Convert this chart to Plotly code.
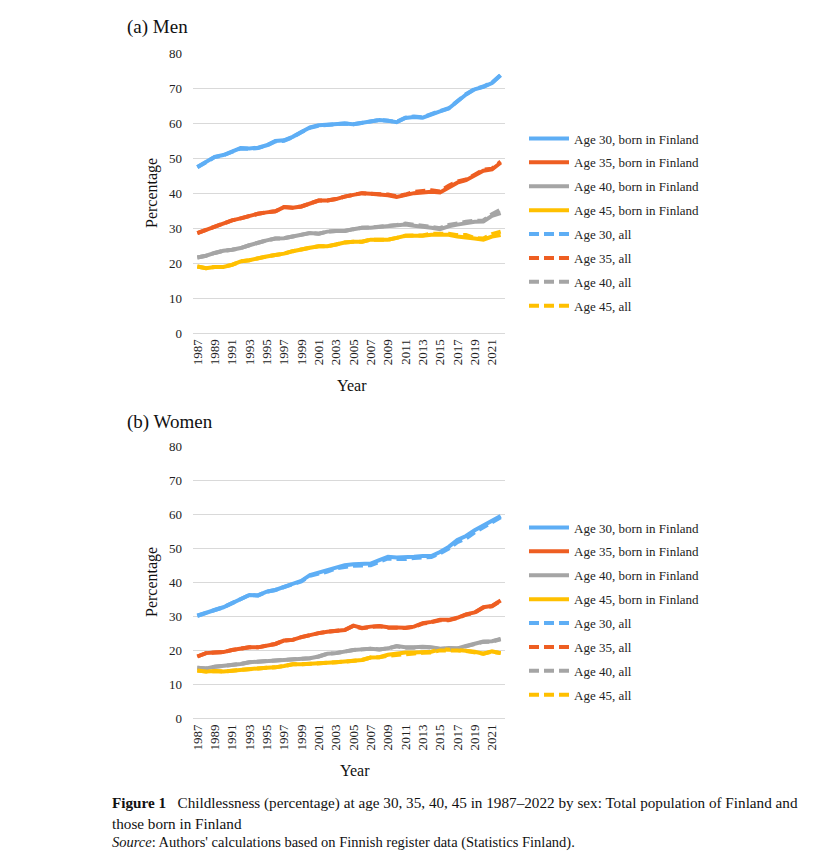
import plotly.graph_objects as go

# Childlessness (%) by age, 1987-2022
years = list(range(1987, 2023))

# (a) Men
men_30_fin = [47.5, 48.9, 50.4, 50.9, 51.8, 52.9, 52.8, 53.0, 53.7, 54.9, 55.1, 56.1,
              57.5, 58.8, 59.4, 59.6, 59.9, 59.9, 59.7, 60.1, 60.6, 60.9, 60.7, 60.3,
              61.5, 61.8, 61.6, 62.6, 63.4, 64.2, 66.1, 68.2, 69.7, 70.4, 71.5, 73.7]
men_35_fin = [28.6, 29.5, 30.7, 31.4, 32.2, 32.8, 33.5, 34.1, 34.5, 34.8, 36.0, 35.8,
              36.2, 37.0, 37.9, 37.9, 38.3, 39.0, 39.6, 40.0, 39.8, 39.6, 39.4, 38.9,
              39.4, 40.0, 40.2, 40.4, 40.2, 41.7, 43.0, 43.7, 45.1, 46.4, 46.8, 48.7]
men_40_fin = [21.6, 22.1, 22.9, 23.5, 23.8, 24.3, 25.1, 25.9, 26.5, 27.0, 27.1, 27.6,
              28.2, 28.6, 28.4, 29.0, 29.2, 29.2, 29.7, 30.1, 30.1, 30.3, 30.5, 30.7,
              31.0, 30.7, 30.5, 30.1, 29.7, 30.5, 31.0, 31.4, 31.8, 31.9, 33.5, 34.3]
men_45_fin = [19.0, 18.5, 18.9, 18.9, 19.5, 20.5, 20.8, 21.4, 21.9, 22.3, 22.7, 23.4,
              24.0, 24.4, 24.8, 24.8, 25.3, 25.9, 26.1, 26.1, 26.7, 26.7, 26.7, 27.2,
              27.8, 27.8, 27.8, 28.1, 28.1, 28.1, 27.6, 27.4, 27.0, 26.7, 27.6, 28.0]
men_30_all = [47.4, 48.8, 50.3, 50.8, 51.7, 52.8, 52.7, 52.9, 53.6, 54.8, 55.0, 56.0,
              57.4, 58.7, 59.3, 59.5, 59.8, 59.9, 59.7, 60.1, 60.6, 60.9, 60.7, 60.4,
              61.6, 61.9, 61.7, 62.7, 63.5, 64.3, 66.2, 68.3, 69.8, 70.5, 71.6, 73.8]
men_35_all = [28.6, 29.5, 30.7, 31.4, 32.2, 32.8, 33.5, 34.1, 34.5, 34.8, 36.0, 35.8,
              36.2, 37.0, 37.9, 37.9, 38.3, 39.0, 39.6, 40.0, 39.8, 39.7, 39.6, 39.1,
              39.6, 40.4, 40.6, 40.8, 40.5, 42.1, 43.3, 43.9, 45.3, 46.7, 47.0, 49.0]
men_40_all = [21.6, 22.1, 22.9, 23.5, 23.8, 24.3, 25.1, 25.9, 26.5, 27.0, 27.1, 27.6,
              28.2, 28.6, 28.4, 29.0, 29.2, 29.2, 29.7, 30.1, 30.2, 30.4, 30.7, 30.9,
              31.3, 31.0, 30.8, 30.4, 30.0, 30.9, 31.4, 31.8, 32.1, 32.2, 34.0, 35.3]
men_45_all = [19.0, 18.5, 18.9, 18.9, 19.5, 20.5, 20.8, 21.4, 21.9, 22.3, 22.7, 23.4,
              24.0, 24.4, 24.8, 24.8, 25.3, 25.9, 26.1, 26.1, 26.7, 26.7, 26.7, 27.2,
              27.8, 27.9, 27.9, 28.4, 28.4, 28.4, 28.0, 28.0, 27.2, 27.0, 28.3, 29.0]

# (b) Women
women_30_fin = [30.2, 31.2, 31.9, 32.7, 33.9, 35.1, 36.3, 36.2, 37.3, 37.8, 38.8, 39.5,
                40.5, 42.2, 42.9, 43.6, 44.6, 45.1, 45.4, 45.4, 45.6, 46.6, 47.6, 47.4,
                47.4, 47.6, 47.8, 47.8, 49.0, 50.5, 52.5, 53.7, 55.4, 56.9, 58.4, 59.6]
women_35_fin = [18.2, 19.2, 19.4, 19.5, 20.1, 20.4, 20.9, 20.9, 21.3, 21.9, 22.9, 23.1,
                23.9, 24.6, 25.1, 25.5, 25.8, 26.0, 27.3, 26.6, 27.0, 27.2, 26.8, 26.8,
                26.7, 27.0, 28.0, 28.4, 29.0, 29.0, 29.6, 30.6, 31.2, 32.7, 33.1, 34.7]
women_40_fin = [14.9, 14.7, 15.2, 15.4, 15.7, 16.0, 16.5, 16.7, 16.7, 17.0, 17.2, 17.5,
                17.5, 17.7, 18.2, 19.0, 19.2, 19.7, 20.1, 20.3, 20.5, 20.3, 20.6, 21.3,
                20.9, 20.9, 21.1, 20.9, 20.5, 20.7, 20.6, 21.3, 21.9, 22.6, 22.7, 23.4]
women_45_fin = [14.1, 13.8, 13.9, 13.8, 14.0, 14.3, 14.4, 14.7, 14.9, 15.0, 15.4, 15.9,
                15.9, 16.0, 16.1, 16.2, 16.5, 16.7, 16.9, 17.2, 17.9, 18.0, 18.7, 19.0,
                19.4, 19.4, 19.6, 19.6, 20.3, 20.3, 20.1, 19.9, 19.6, 19.0, 19.7, 19.2]
women_30_all = [30.2, 31.2, 31.9, 32.7, 33.9, 35.1, 36.3, 36.2, 37.3, 37.8, 38.8, 39.5,
                40.3, 42.0, 42.6, 43.2, 44.2, 44.6, 44.9, 45.0, 45.1, 46.1, 47.1, 46.9,
                46.9, 47.2, 47.4, 47.5, 48.6, 50.0, 51.9, 53.0, 54.8, 56.3, 57.9, 59.2]
women_35_all = [18.2, 19.2, 19.4, 19.5, 20.1, 20.4, 20.9, 20.9, 21.3, 21.9, 22.9, 23.1,
                23.9, 24.6, 25.1, 25.5, 25.8, 26.0, 27.2, 26.5, 26.9, 27.1, 26.7, 26.7,
                26.6, 26.9, 27.9, 28.3, 28.9, 28.9, 29.5, 30.5, 31.1, 32.6, 33.0, 34.6]
women_40_all = [14.9, 14.7, 15.2, 15.4, 15.7, 16.0, 16.5, 16.7, 16.7, 17.0, 17.2, 17.5,
                17.5, 17.7, 18.2, 19.0, 19.2, 19.7, 20.1, 20.3, 20.5, 20.3, 20.6, 21.2,
                20.8, 20.8, 21.0, 20.8, 20.4, 20.6, 20.5, 21.2, 21.8, 22.5, 22.6, 23.3]
women_45_all = [14.1, 13.8, 13.9, 13.8, 14.0, 14.3, 14.4, 14.7, 14.9, 15.0, 15.4, 15.9,
                15.9, 16.0, 16.1, 16.2, 16.5, 16.7, 16.9, 17.2, 17.9, 18.0, 18.4, 18.7,
                19.0, 19.1, 19.3, 19.4, 20.0, 20.1, 20.0, 19.8, 19.5, 19.0, 19.6, 19.2]

ages = ["30", "35", "40", "45"]
colors = ["#5EAEF5", "#EE5E22", "#A5A5A5", "#FFC000"]

FONT = "Liberation Serif"
W, H = 816, 843   # page body has an 8px margin in the 832x859 window
OFF = 8


def fx(p):
    return (p - OFF) / W


def fy(p):
    return 1 - (p - OFF) / H


panels = [
    ("x", "y", "legend", "m", [men_30_fin, men_35_fin, men_40_fin, men_45_fin],
     [men_30_all, men_35_all, men_40_all, men_45_all]),
    ("x2", "y2", "legend2", "w", [women_30_fin, women_35_fin, women_40_fin, women_45_fin],
     [women_30_all, women_35_all, women_40_all, women_45_all]),
]

fig = go.Figure()
for xa, ya, leg, key, fin, allp in panels:
    for age, c, vals in zip(ages, colors, fin):
        fig.add_trace(go.Scatter(x=years, y=vals, mode="lines", xaxis=xa, yaxis=ya,
                                 legend=leg, legendgroup=f"{key}{age}fin",
                                 name=f"Age {age}, born in Finland",
                                 line=dict(color=c, width=4)))
    for age, c, vals in zip(ages, colors, allp):
        fig.add_trace(go.Scatter(x=years, y=vals, mode="lines", xaxis=xa, yaxis=ya,
                                 legend=leg, legendgroup=f"{key}{age}all",
                                 name=f"Age {age}, all",
                                 line=dict(color=c, width=4, dash="10px,5px")))

xticks = list(range(1987, 2023, 2))
xax = dict(range=[1986.5, 2022.5], tickmode="array", tickvals=xticks,
           ticktext=[str(t) for t in xticks], tickangle=-90, showgrid=False,
           showline=True, linecolor="#d9d9d9", linewidth=1, ticks="", zeroline=False,
           tickfont=dict(family=FONT, size=13, color="#222"), automargin=False,
           domain=[fx(193), fx(505)])
yax = dict(range=[0, 80], dtick=10, showgrid=True, gridcolor="#d9d9d9", gridwidth=1,
           zeroline=False, showline=False, ticks="", ticklabelstandoff=10,
           tickfont=dict(family=FONT, size=13, color="#222"), automargin=False)

leg_style = dict(xanchor="left", yanchor="top", tracegroupgap=4, itemwidth=40,
                 traceorder="grouped", font=dict(family=FONT, size=13, color="#222"),
                 bgcolor="rgba(0,0,0,0)")

fig.update_layout(
    width=W, height=H,
    margin=dict(l=0, r=0, t=0, b=0),
    font=dict(family=FONT),
    paper_bgcolor="white", plot_bgcolor="white",
    showlegend=True,
    xaxis=dict(xax, anchor="y"),
    yaxis=dict(yax, domain=[fy(333), fy(53.3)], anchor="x"),
    xaxis2=dict(xax, anchor="y2"),
    yaxis2=dict(yax, domain=[fy(718.3), fy(446.7)], anchor="x2"),
    legend=dict(leg_style, x=fx(524), y=fy(123.5)),
    legend2=dict(leg_style, x=fx(524), y=fy(512.5)),
)

ann_font = dict(family=FONT, color="#111")
annotations = [
    dict(text="(a) Men", x=125, y=27, size=19),
    dict(text="(b) Women", x=125, y=422, size=19),
    dict(text="Percentage", x=152, y=193, size=16, angle=-90, xanchor="center"),
    dict(text="Percentage", x=152, y=582, size=16, angle=-90, xanchor="center"),
    dict(text="Year", x=352, y=385, size=16, xanchor="center"),
    dict(text="Year", x=355, y=770, size=16, xanchor="center"),
    dict(text="<b>Figure 1</b>   Childlessness (percentage) at age 30, 35, 40, 45 in "
              "1987\u20132022 by sex: Total population of Finland and", x=110, y=803, size=15.2),
    dict(text="those born in Finland", x=110, y=823, size=15.2),
    dict(text="<i>Source</i>: Authors' calculations based on Finnish register data "
              "(Statistics Finland).", x=110, y=842, size=14.5),
]
for a in annotations:
    fig.add_annotation(text=a["text"], xref="paper", yref="paper",
                       x=fx(a["x"]), y=fy(a["y"]),
                       xanchor=a.get("xanchor", "left"), yanchor="middle",
                       textangle=a.get("angle", 0), showarrow=False,
                       font=dict(ann_font, size=a["size"]))

fig.write_html("out.html")
